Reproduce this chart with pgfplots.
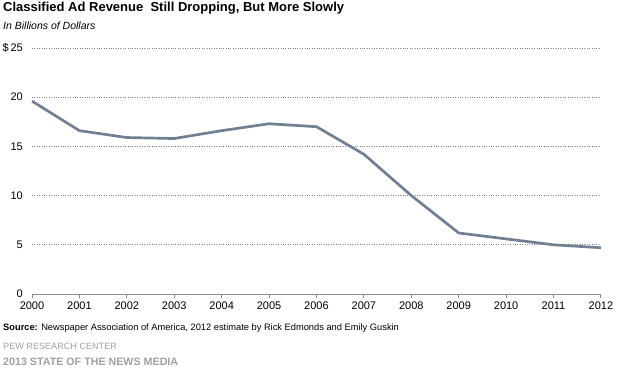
\documentclass[border=0pt]{standalone}
\usepackage{pgfplots}
\pgfplotsset{compat=1.18}
\usepackage{fontspec}
\setmainfont{Liberation Sans}
\definecolor{linecol}{RGB}{112,128,148}
\definecolor{pewgray}{RGB}{160,160,160}
\begin{document}
\begin{tikzpicture}
\useasboundingbox (0,0) rectangle (623bp,371bp);
\begin{axis}[
  at={(32bp,77bp)}, anchor=south west,
  scale only axis, width=569bp, height=246bp,
  xmin=2000, xmax=2012, ymin=0, ymax=25,
  xtick={2000,...,2012},
  ytick={0,5,10,15,20,25},
  yticklabels={0,5,10,15,20,{\$\,25}},
  xticklabel={\pgfmathprintnumber[1000 sep={}]{\tick}},
  /pgf/number format/assume math mode=true,
  axis x line*=bottom, axis y line*=left,
  x axis line style={draw=gray!90, line width=0.9bp, -},
  y axis line style={draw=none},
  ytick style={draw=none},
  xtick style={draw=gray!90, line width=0.9bp},
  tick align=outside, major tick length=4bp,
  ymajorgrids, major grid style={draw=gray, dotted, line width=0.7bp},
  ticklabel style={font=\fontsize{11bp}{13bp}\selectfont, inner sep=0pt},
  yticklabel style={anchor=east, xshift=-5bp},
  xticklabel style={anchor=north, yshift=-4bp},
  clip=false,
]
\addplot[color=linecol, line width=2.7bp, line join=round] coordinates {
  (2000,19.6) (2001,16.6) (2002,15.9) (2003,15.8) (2004,16.6)
  (2005,17.3) (2006,17.0) (2007,14.2) (2008,10.0) (2009,6.2)
  (2010,5.6) (2011,5.0) (2012,4.7)
};
\end{axis}
\node[anchor=base west, inner sep=0pt, font=\fontsize{13bp}{15bp}\selectfont\bfseries] at (3bp,359bp) {Classified Ad Revenue\ \ Still Dropping, But More Slowly};
\node[anchor=base west, inner sep=0pt, font=\fontsize{10.5bp}{12bp}\selectfont\itshape] at (3bp,341bp) {In Billions of Dollars};
\node[anchor=base west, inner sep=0pt, font=\fontsize{9.3bp}{11bp}\selectfont] at (3bp,40bp) {\textbf{Source:} Newspaper Association of America, 2012 estimate by Rick Edmonds and Emily Guskin};
\node[anchor=base west, inner sep=0pt, text=pewgray, font=\fontsize{9.1bp}{11bp}\selectfont] at (3bp,22bp) {PEW RESEARCH CENTER};
\node[anchor=base west, inner sep=0pt, text=pewgray, font=\fontsize{10.7bp}{12bp}\selectfont\bfseries] at (3bp,6bp) {2013 STATE OF THE NEWS MEDIA};
\end{tikzpicture}
\end{document}
